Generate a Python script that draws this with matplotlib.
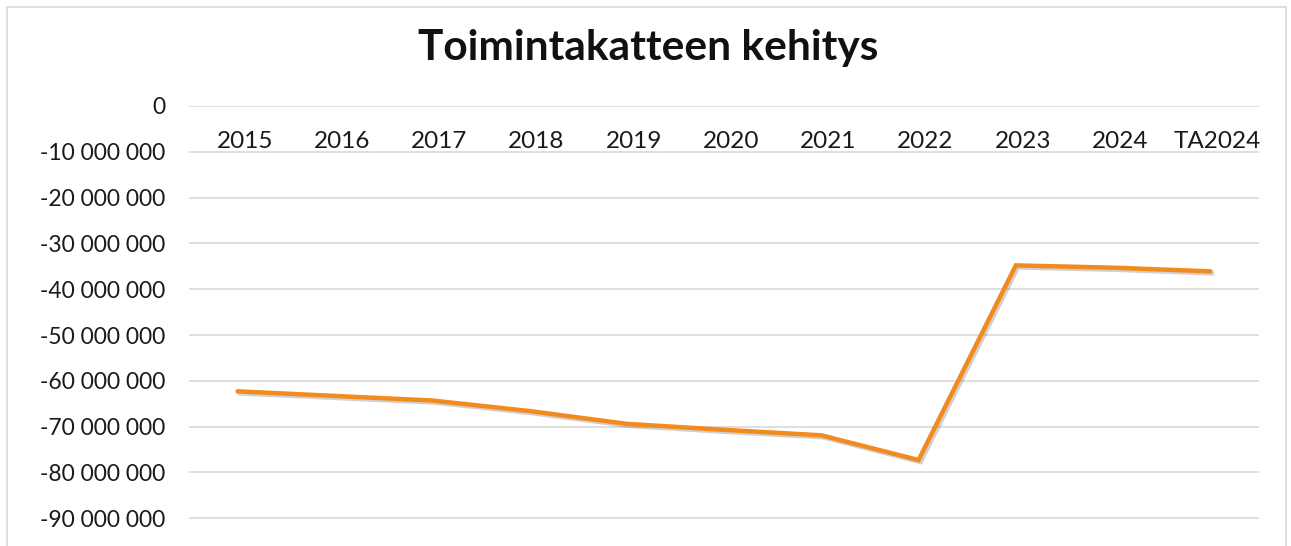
import matplotlib
matplotlib.use("Agg")
import matplotlib.pyplot as plt
import matplotlib.patheffects as pe
from matplotlib.patches import Rectangle
from matplotlib.ticker import FixedLocator, FuncFormatter

plt.rcParams["font.family"] = ["Lato", "DejaVu Sans"]

# Toimintakate per year (EUR)
years = ["2015", "2016", "2017", "2018", "2019", "2020", "2021", "2022",
         "2023", "2024", "TA2024"]
toimintakate = [-62.3e6, -63.3e6, -64.3e6, -66.6e6, -69.4e6, -70.7e6,
                -71.9e6, -77.3e6, -34.8e6, -35.3e6, -36.1e6]
y_ticks = [0, -10e6, -20e6, -30e6, -40e6, -50e6, -60e6, -70e6, -80e6, -90e6]

W, H = 1291, 546
fig = plt.figure(figsize=(W / 100, H / 100), dpi=100)

# outer chart frame (bottom is cropped away)
fig.patches.append(Rectangle((7 / W, -0.05), 1279 / W, 1.05 - 7 / H,
                             transform=fig.transFigure, fill=False,
                             edgecolor="#d9d9d9", linewidth=1.2))

# axes: 0 line at y=106px, -100M line at y~564px (below the crop)
left, right = 189, 1259
top, bottom = 106, 564
ax = fig.add_axes([left / W, (H - bottom) / H, (right - left) / W, (bottom - top) / H])
ax.set_ylim(-100e6, 0)
ax.set_xlim(-0.5, len(years) - 0.5)
ax.yaxis.set_major_locator(FixedLocator(y_ticks))
ax.yaxis.set_major_formatter(
    FuncFormatter(lambda v, _: f"{int(round(v)):,}".replace(",", " "))
)
ax.grid(axis="y", color="#d9d9d9", linewidth=1.2)
ax.set_axisbelow(True)
for s in ax.spines.values():
    s.set_visible(False)
ax.tick_params(axis="y", length=0, pad=17, labelsize=16.5, labelcolor="#1a1a1a")
ax.set_xticks([])

# category labels sit just below the 0 line
for i, yr in enumerate(years):
    ax.annotate(yr, xy=(i, 0), xytext=(7, -35), textcoords="offset pixels",
                ha="center", va="center", fontsize=17.5, color="#1a1a1a")

ax.plot(range(len(years)), toimintakate, color="#f28a1c", linewidth=3.2,
        solid_capstyle="round", solid_joinstyle="miter",
        path_effects=[pe.SimpleLineShadow(offset=(1.5, -1.5), shadow_color="#666666", alpha=0.3),
                      pe.Normal()])

fig.text(648 / W, 1 - 48 / H, "Toimintakatteen kehitys", ha="center", va="center",
         fontsize=30.5, fontweight="bold", color="#111111")

fig.savefig("out.png", dpi=100)
